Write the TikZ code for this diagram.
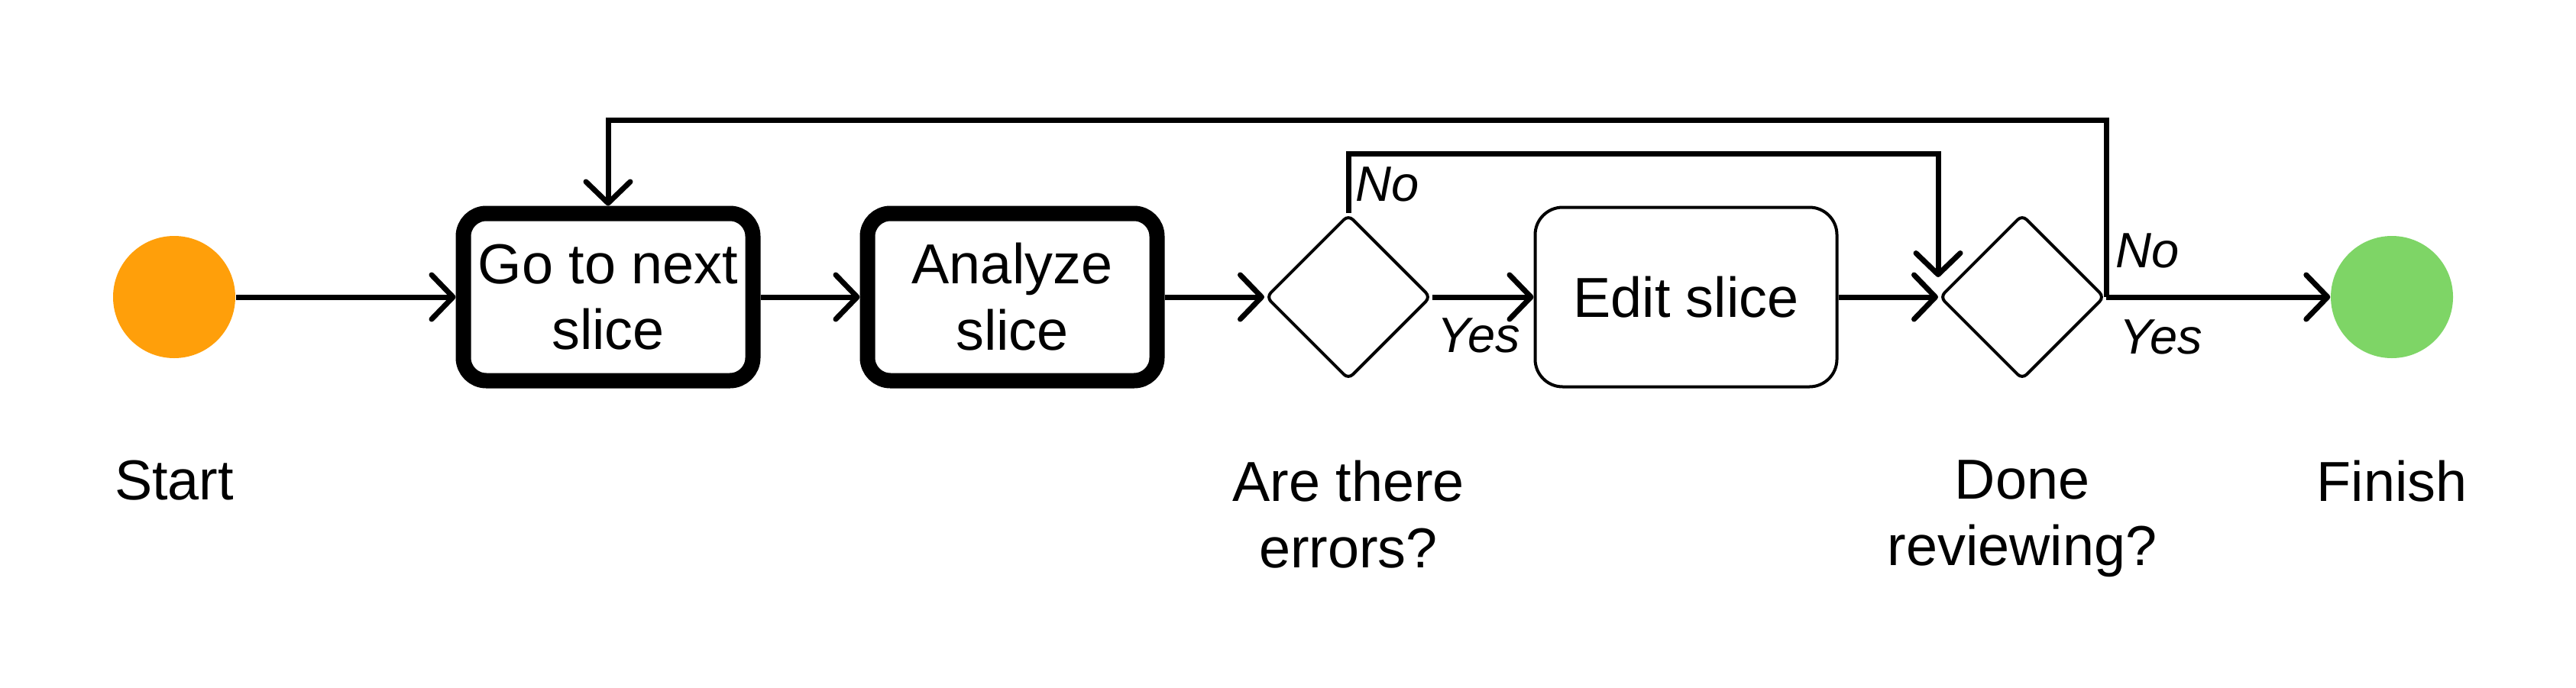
\documentclass[tikz,border=0pt]{standalone}
\usepackage{fontspec}
\setmainfont{Liberation Sans}
\usepackage{tikz}
\usetikzlibrary{arrows.meta,positioning,shapes.geometric}
\usepackage{xcolor}
\definecolor{startorange}{HTML}{FF9F0A}
\definecolor{finishgreen}{HTML}{7ED566}
\newcommand{\bigtxt}{\fontsize{21pt}{24.7pt}\selectfont}

\begin{document}
\begin{tikzpicture}[x=1cm,y=1cm, every node/.style={font=\bigtxt},
  dot/.style={circle,minimum size=1.6cm,inner sep=0pt},
  act/.style={draw,line width=0.04cm,rounded corners=0.36cm,minimum
  width=3.95cm,minimum height=2.35cm,align=center,inner sep=0pt},
  actbold/.style={act,line width=0.2cm,rounded corners=0.3cm,minimum
  width=3.79cm,minimum height=2.19cm},
  choice/.style={draw,diamond,line width=0.04cm,rounded corners=0.08cm,minimum
  width=2.16cm,minimum height=2.16cm,inner sep=0pt},
  edge/.style={-{Straight Barb[length=2.8mm,width=5.8mm,round]},line
  width=0.07cm},
  lab/.style={font=\fontsize{18.5pt}{22pt}\selectfont\itshape,inner sep=0pt},
  caption/.style={align=center,inner sep=0pt}]
  \useasboundingbox (0,-5.11) rectangle (33.72,3.89);
  \node[dot,fill=startorange] (start) at (2.28,0) {}; \node[actbold] (go) at
  (7.96,0) {Go to next\\slice}; \node[actbold] (ana) at (13.25,0)
  {Analyze\\slice}; \node[choice] (err) at (17.65,0) {}; \node[act] (edit) at
  (22.07,0) {Edit slice}; \node[choice] (done) at (26.47,0) {};
  \node[dot,fill=finishgreen] (fin) at (31.31,0) {};
  \node[caption,below=1.33cm of start] {Start}; \node[caption,below=1.03cm of
  err] {Are there\\errors?}; \node[caption,below=1.03cm of done]
  {Done\\reviewing?}; \node[caption,below=1.33cm of fin] {Finish};
  \draw[edge] (start) -- (go); \draw[edge] (go) -- (ana); \draw[edge] (ana) --
  (err); \draw[edge] (err) -- (edit); \draw[edge] (edit) -- (done);
  \draw[edge] (done) -- (fin); \draw[edge] (err.north) -- ++(0,0.78) -|
  ([yshift=2.6mm]done.west); \draw[edge] (done.east) -- ++(0,2.32) -|
  (go.north);
  \node[lab,anchor=base west] at ([xshift=0.9mm,yshift=1.6mm]err.north) {No};
  \node[lab,anchor=base west] at ([xshift=0.6mm,yshift=-7.2mm]err.east) {Yes};
  \node[lab,anchor=base west] at ([xshift=1.2mm,yshift=3.9mm]done.east) {No};
  \node[lab,anchor=base west] at ([xshift=1.7mm,yshift=-7.4mm]done.east) {Yes};
\end{tikzpicture}
\end{document}
